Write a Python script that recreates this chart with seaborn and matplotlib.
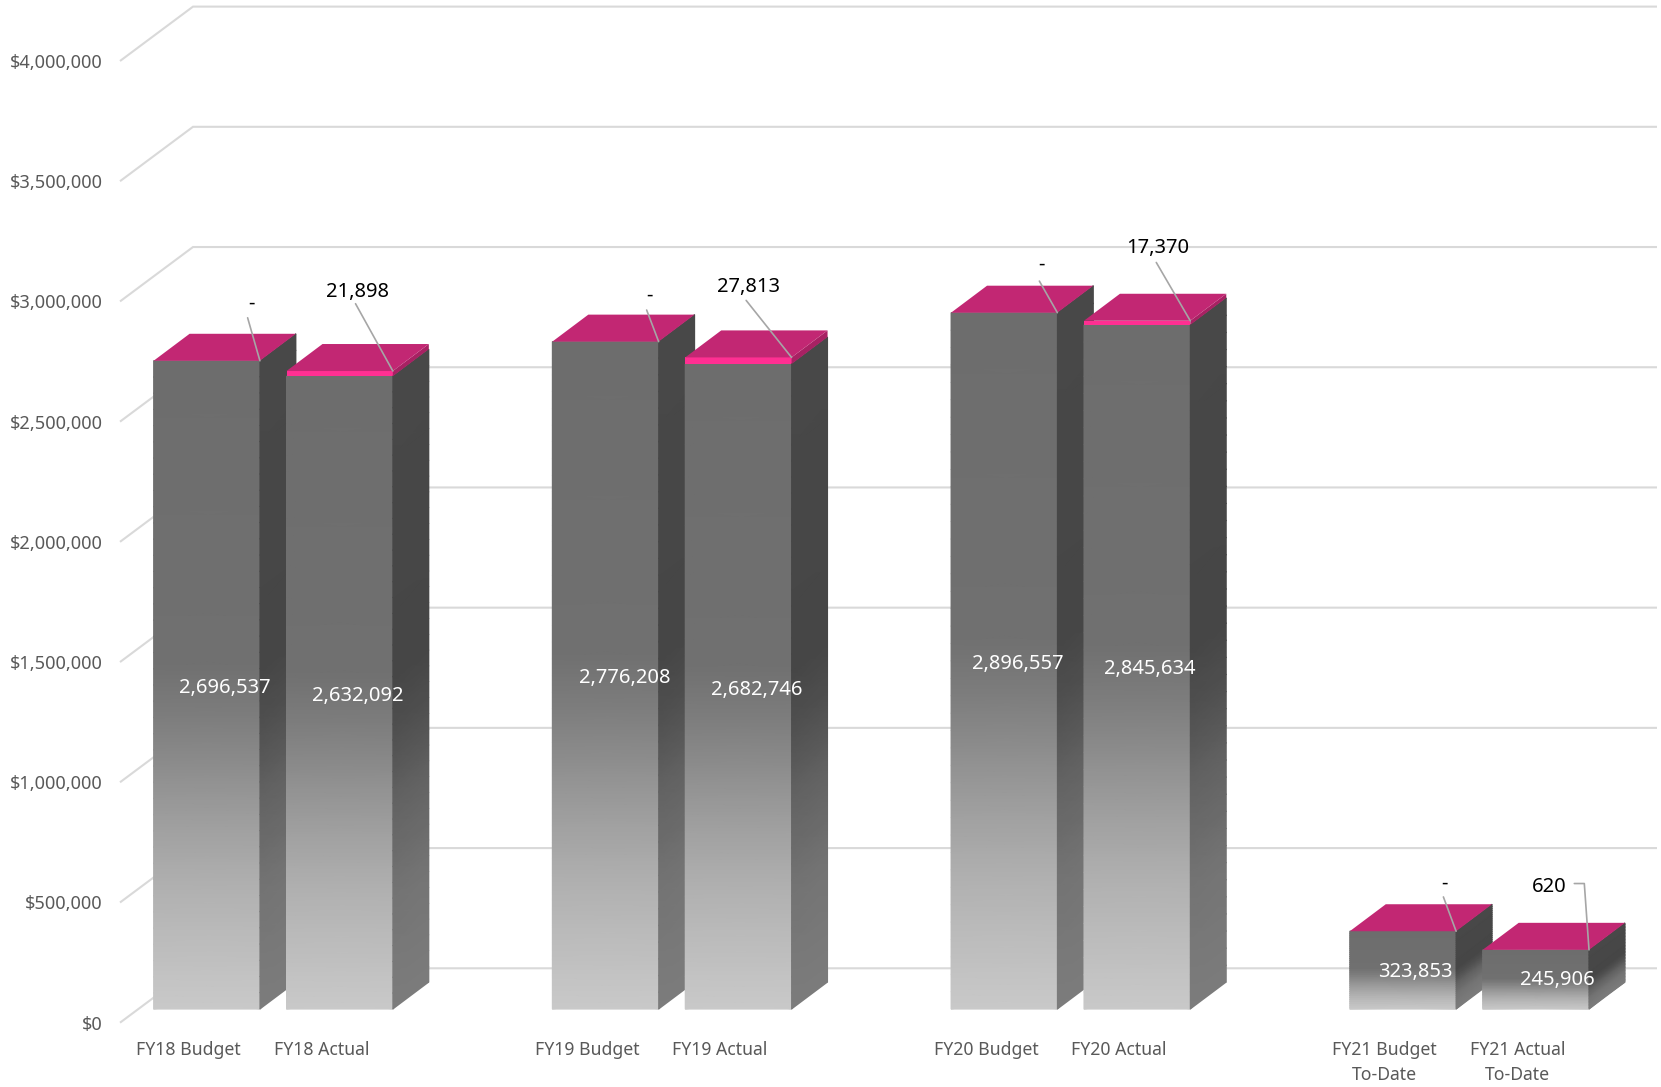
import numpy as np
import pandas as pd
import matplotlib
matplotlib.use("Agg")
import matplotlib.pyplot as plt
from matplotlib.colors import LinearSegmentedColormap
from matplotlib.patches import Polygon
from matplotlib.ticker import FuncFormatter
from matplotlib.transforms import Affine2D
import seaborn as sns

# ---------------- data ----------------
categories = ["FY18 Budget", "FY18 Actual", "", "FY19 Budget", "FY19 Actual", "",
              "FY20 Budget", "FY20 Actual", "", "FY21 Budget\nTo-Date", "FY21 Actual\nTo-Date"]
base_values = [2696537, 2632092, 0, 2776208, 2682746, 0, 2896557, 2845634, 0, 323853, 245906]
top_values = [0, 21898, 0, 0, 27813, 0, 0, 17370, 0, 0, 620]
base_labels = ["2,696,537", "2,632,092", "", "2,776,208", "2,682,746", "",
               "2,896,557", "2,845,634", "", "323,853", "245,906"]
top_labels = ["-", "21,898", "", "-", "27,813", "", "-", "17,370", "", "-", "620"]
y_ticks = [0, 500000, 1000000, 1500000, 2000000, 2500000, 3000000, 3500000, 4000000]

# ---------------- layout (pixels) ----------------
W, H = 1661, 1087
AX_L, AX_R, AX_B, AX_T = 122, 1584, 1022.7, 61
GRID_LEFT = -2         # gridlines begin slightly left of the axes
WALL = (73, 54.4)      # depth offset of the back wall
BAR_FRONT = (18.3, 13.6)  # bar front face relative to the front plane
BAR_DEPTH = (36, 27)

# label offsets from the bar's front top-right corner (x right, y up), pixels
text_off = {0: (-8, 57), 1: (-35, 79), 3: (-9.6, 46), 4: (-43, 70),
            6: (-16, 48), 7: (-32.5, 72.5), 9: (-12, 48), 10: (-39.5, 63)}
leader_off = {0: [(-12.3, 43)], 1: [(-37.3, 67.3)], 3: [(-12, 31.6)], 4: [(-45.4, 57)],
              6: [(-18, 31.6)], 7: [(-34, 58.3)], 9: [(-12.7, 34.3)],
              10: [(-14.7, 66.3), (-4.7, 66.3)]}
# value label nudges from the default spot (x right, y up), pixels
base_nudge = {0: (0, -3), 1: (0, -3), 3: (0.5, -2.5), 4: (0, -3), 6: (-4.2, -3), 7: (-5.3, -1.5),
              9: (-5.6, -2), 10: (3.2, -0.5)}

C_GRID = "#d9d9d9"
C_TEXT = "#595959"
C_TOP = "#c22773"
C_PINK = "#ff2f92"
C_PINK_SIDE = "#a82163"
C_LEADER = "#a6a6a6"

front_cmap = LinearSegmentedColormap.from_list(
    "front", [(0.0, "#c9c9c9"), (0.125, "#b9b9b9"), (0.23, "#a9a9a9"), (0.33, "#969696"),
              (0.435, "#808080"), (0.53, "#707070"), (1.0, "#6d6d6d")])
side_cmap = LinearSegmentedColormap.from_list(
    "side", [(0.0, "#7c7c7c"), (0.18, "#747474"), (0.33, "#626262"), (0.435, "#505050"),
             (0.53, "#464646"), (1.0, "#484848")])

sns.set_theme(style="white")
plt.rcParams["font.family"] = ["Noto Sans", "DejaVu Sans"]

fig = plt.figure(figsize=(W / 100, H / 100), dpi=100, facecolor="white")
ax = fig.add_axes([AX_L / W, (H - AX_B) / H, (AX_R - AX_L) / W, (AX_B - AX_T) / H])
pos = np.arange(len(categories))

df = pd.DataFrame({"pos": pos, "base": base_values, "top": top_values})
df["total"] = df["base"] + df["top"]
order = [i for i, c in enumerate(categories) if c]
used = df[df["pos"].isin(order)]

# stacked front faces, through the library
sns.barplot(data=used, x="pos", y="total", native_scale=True, color=C_PINK, saturation=1,
            width=0.8, ax=ax, zorder=3, errorbar=None)
sns.barplot(data=used, x="pos", y="base", native_scale=True, color="#6e6e6e", saturation=1,
            width=0.8, ax=ax, zorder=3, errorbar=None)

ax.set_xlim(-0.5, 10.5)
ax.set_ylim(0, 4000000)
ax.set_xlabel("")
ax.set_ylabel("")
sns.despine(ax=ax, left=True, bottom=True)
ax.patch.set_alpha(0)
ax.set_yticks(y_ticks)
ax.yaxis.set_major_formatter(FuncFormatter(lambda v, _: f"${v:,.0f}"))
ax.set_xticks(order)
ax.set_xticklabels([categories[i] for i in order], linespacing=1.47)
ax.tick_params(axis="y", length=0, pad=13.7, labelsize=13.1, labelcolor=C_TEXT)
ax.tick_params(axis="x", length=0, pad=13.4, labelsize=12.7, labelcolor=C_TEXT)

# pixel-to-data scales
ux = (AX_R - AX_L) / 11
uy = (AX_B - AX_T) / 4000000

shift_front = Affine2D().translate(BAR_FRONT[0], BAR_FRONT[1]) + ax.transData
for p in ax.patches:
    p.set_transform(shift_front)

# walls: gridlines drawn from the tick values
wx, wy = WALL[0] / ux, WALL[1] / uy
gl = -0.5 + GRID_LEFT / ux
for v in y_ticks:
    ax.plot([gl, gl + wx, 10.5 + wx], [v, v + wy, v + wy], color=C_GRID, lw=1.5,
            clip_on=False, zorder=1, solid_capstyle="butt", solid_joinstyle="miter")

fx, fy = BAR_FRONT[0] / ux, BAR_FRONT[1] / uy
dx, dy = BAR_DEPTH[0] / ux, BAR_DEPTH[1] / uy
half = 0.4
ts = np.linspace(0, 1, 41)

z = 4.0
for i in order:
    base = base_values[i]
    total = base + top_values[i]
    xl, xr = i - half + fx, i + half + fx
    # front face gradient
    Xf = np.column_stack([np.full_like(ts, xl), np.full_like(ts, xr)])
    Yf = np.column_stack([ts * base + fy, ts * base + fy])
    Cf = np.column_stack([ts, ts])
    ax.pcolormesh(Xf, Yf, Cf, cmap=front_cmap, shading="gouraud", vmin=0, vmax=1,
                  zorder=z, clip_on=False)
    # bright top slice of the stack, on the front
    if top_values[i]:
        ax.add_patch(Polygon([(xl, base + fy), (xr, base + fy), (xr, total + fy), (xl, total + fy)],
                             closed=True, fc=C_PINK, ec="none", zorder=z, clip_on=False))
    # side face gradient
    Xs = np.column_stack([np.full_like(ts, xr), np.full_like(ts, xr + dx)])
    Ys = np.column_stack([ts * base + fy, ts * base + fy + dy])
    ax.pcolormesh(Xs, Ys, Cf, cmap=side_cmap, shading="gouraud", vmin=0, vmax=1,
                  zorder=z, clip_on=False)
    if top_values[i]:
        ax.add_patch(Polygon([(xr, base + fy), (xr + dx, base + fy + dy),
                              (xr + dx, total + fy + dy), (xr, total + fy)],
                             closed=True, fc=C_PINK_SIDE, ec="none", zorder=z, clip_on=False))
    # top face
    ax.add_patch(Polygon([(xl, total + fy), (xr, total + fy),
                          (xr + dx, total + fy + dy), (xl + dx, total + fy + dy)],
                         closed=True, fc=C_TOP, ec="none", zorder=z, clip_on=False))
    z += 0.1

# labels
for i in order:
    base = base_values[i]
    total = base + top_values[i]
    xr = i + half + fx
    nx, ny = base_nudge[i]
    ax.text(i + 2 * fx + nx / ux, fy + base / 2 + ny / uy, base_labels[i], color="white",
            fontsize=14.5, ha="center", va="center", zorder=10, clip_on=False)
    pts = [(ox / ux + xr, oy / uy + total + fy) for ox, oy in leader_off[i]] + [(xr, total + fy)]
    ax.plot(*zip(*pts), color=C_LEADER, lw=1.2, zorder=9, clip_on=False)
    tx, ty = text_off[i]
    ax.text(xr + tx / ux, total + fy + ty / uy, top_labels[i], color="black", fontsize=14.5,
            ha="center", va="center", zorder=10, clip_on=False)

fig.savefig("out.png", dpi=100, facecolor="white")
